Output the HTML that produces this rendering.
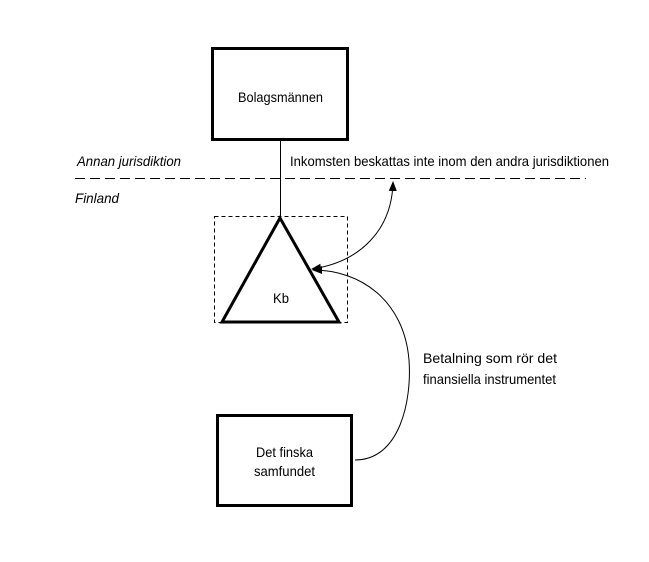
<!DOCTYPE html>
<html><head><meta charset="utf-8"><style>
html,body{margin:0;padding:0;background:#fff;}
svg text{font-family:"Liberation Sans",Arial,sans-serif;font-size:14px;fill:#000;}
</style></head><body>
<svg width="649" height="557" viewBox="0 0 649 557" xmlns="http://www.w3.org/2000/svg">
<defs>
<marker id="ah" markerWidth="10" markerHeight="10" refX="9" refY="5" orient="auto" markerUnits="userSpaceOnUse">
<path d="M0,1 L10,5 L0,9 Z" fill="#000"/>
</marker>
<marker id="ahs" markerWidth="10" markerHeight="10" refX="1" refY="5" orient="auto" markerUnits="userSpaceOnUse"><path d="M10,1 L0,5 L10,9 Z" fill="#000"/></marker>
</defs>
<rect x="212.5" y="48.5" width="135" height="91" fill="#fff" stroke="#000" stroke-width="3"/>
<text x="238" y="102" textLength="85" lengthAdjust="spacingAndGlyphs">Bolagsmännen</text>
<line x1="280.5" y1="141" x2="280.5" y2="217" stroke="#000" stroke-width="1"/>
<line x1="75" y1="178.5" x2="586" y2="178.5" stroke="#000" stroke-width="1" stroke-dasharray="10,5"/>
<text x="77" y="166" font-style="italic" textLength="104" lengthAdjust="spacingAndGlyphs">Annan jurisdiktion</text>
<text x="75" y="203" font-style="italic" textLength="44" lengthAdjust="spacingAndGlyphs">Finland</text>
<text x="290" y="166" textLength="319" lengthAdjust="spacingAndGlyphs">Inkomsten beskattas inte inom den andra jurisdiktionen</text>
<rect x="214.5" y="216.5" width="133" height="106" fill="none" stroke="#000" stroke-width="1" stroke-dasharray="4,3"/>
<polygon points="280,218 222,322 339,322" fill="#fff" stroke="#000" stroke-width="3" stroke-linejoin="miter"/>
<text x="273" y="303" textLength="16" lengthAdjust="spacingAndGlyphs">Kb</text>
<path d="M312,269 C360,262 392,230 393,182" fill="none" stroke="#000" stroke-width="1" marker-end="url(#ah)" marker-start="url(#ahs)"/>
<path d="M355,460 C400,460 412,400 409,360 C404,300 360,270 313,270" fill="none" stroke="#000" stroke-width="1" marker-end="url(#ah)"/>
<text x="423" y="363" textLength="134" lengthAdjust="spacingAndGlyphs">Betalning som rör det</text>
<text x="423" y="384" textLength="133" lengthAdjust="spacingAndGlyphs">finansiella instrumentet</text>
<rect x="217.5" y="415.5" width="134" height="90" fill="#fff" stroke="#000" stroke-width="3"/>
<text x="256" y="457" textLength="57" lengthAdjust="spacingAndGlyphs">Det finska</text>
<text x="254" y="476" textLength="61" lengthAdjust="spacingAndGlyphs">samfundet</text>
</svg>
</body></html>
